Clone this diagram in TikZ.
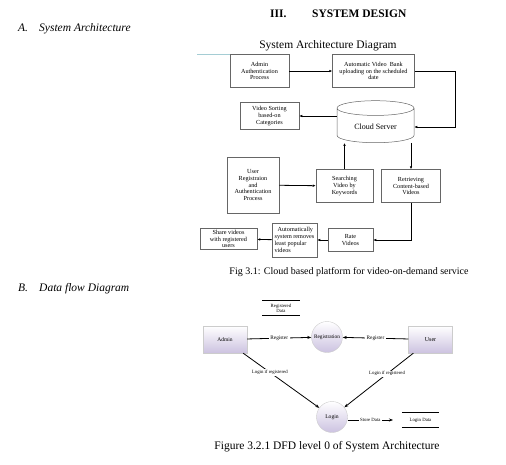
\documentclass[tikz,border=0pt]{standalone}
\usepackage{fontspec}
\setmainfont{Liberation Serif}
\usepackage{tikz}
\usetikzlibrary{shapes.geometric,arrows.meta}
\definecolor{lav}{RGB}{204,194,224}
\definecolor{teal}{RGB}{165,205,212}
\tikzset{box/.style={draw=gray!80!black, line width=0.5pt, rectangle, align=center, inner sep=1pt, font=\fontsize{6.2}{6.8}\selectfont},
  arr/.style={line width=0.8pt, -{Latex[length=3pt,width=2.6pt]}},
  dfdbox/.style={draw=gray!40, rectangle, top color=white, bottom color=lav, minimum width=44pt, minimum height=27pt, font=\fontsize{5.5}{6}\selectfont},
  dfdcirc/.style={draw=gray!40, circle, top color=white, bottom color=lav, minimum size=31pt, inner sep=0pt, font=\fontsize{5.3}{6}\selectfont},
  store/.style={inner sep=0pt, minimum width=37pt, minimum height=15pt, align=center, font=\fontsize{4.8}{5.2}\selectfont},
  dfdarr/.style={line width=0.8pt, -{Stealth[length=4pt,width=3pt]}},
  lbl/.style={fill=white, inner sep=1.5pt, font=\fontsize{5.3}{6}\selectfont},
  small/.style={fill=white, inner sep=1pt, font=\fontsize{4.8}{5.2}\selectfont}}
\begin{document}
\begin{tikzpicture}[x=1pt, y=-1pt]
  \useasboundingbox (0,0) rectangle (506,464);
  % headings
  \node [anchor=base west, inner sep=0pt, font=\fontsize{11.5}{13}\selectfont\bfseries] (sec) at (270,17) {III.};
  \node [anchor=base west, inner sep=0pt, font=\fontsize{11.5}{13}\selectfont\bfseries] (secname) at (312,17) {SYSTEM DESIGN};
  \node [anchor=base west, inner sep=0pt, font=\fontsize{11.5}{13}\selectfont\itshape] (suba) at (18,31) {A.};
  \node [anchor=base west, inner sep=0pt, font=\fontsize{11.5}{13}\selectfont\itshape] (subaname) at (39,31) {System Architecture};
  \node [anchor=base, inner sep=0pt, font=\fontsize{11.5}{13}\selectfont] (title) at (328,48) {System Architecture Diagram};
  \draw [teal, line width=0.8pt] (197,54) -- (233,54);
  % system architecture
  \node [box, minimum width=59pt, minimum height=33pt] (adminauth) at (259.5,71) {Admin\\Authentication\\Process};
  \node [box, minimum width=82pt, minimum height=33pt] (autobank) at (373.5,71) {Automatic Video~ Bank\\uploading on the scheduled\\date};
  \node [box, minimum width=59pt, minimum height=27pt] (sorting) at (269.5,116) {Video Sorting\\based-on\\Categories};
  \node [draw=gray!80!black, line width=0.5pt, cylinder, shape border rotate=90, aspect=0.3, minimum width=77pt, minimum height=42pt, font=\fontsize{8}{9}\selectfont] (cloud) at (375.5,127) {Cloud Server};
  \node [box, minimum width=52pt, minimum height=56pt] (userreg) at (253,185) {User\\Registraion\\and\\Authentication\\Process};
  \node [box, minimum width=57pt, minimum height=33pt] (search) at (344.5,186) {Searching\\Video by\\Keywords};
  \node [box, minimum width=59pt, minimum height=33pt] (retrieve) at (411,186) {Retrieving\\Content-based\\Videos};
  \node [box, minimum width=45pt, minimum height=23pt] (rate) at (350.5,240) {Rate\\Videos};
  \node [box, minimum width=45pt, minimum height=34pt, align=left] (removes) at (294.5,240) {\hspace*{3pt}Automatically\\system removes\\least popular\\videos};
  \node [box, minimum width=57pt, minimum height=21pt] (share) at (228.5,239) {Share videos\\with registered\\users};
  \draw [arr] (adminauth) -- (autobank);
  \draw [arr] (autobank.east) -- ++(41,0) |- (cloud.east);
  \draw [arr] (cloud.west |- sorting.east) -- (sorting.east);
  \draw [arr] (userreg) -- (search);
  \draw [arr] (search.north) -- (search.north |- cloud.south);
  \draw [arr] (retrieve.north |- cloud.south) -- (retrieve.north);
  \draw [arr] (retrieve.south) |- (rate.east);
  \draw [arr] (rate) -- (removes);
  \draw [arr] (removes) -- (share);
  \node [anchor=base, inner sep=0pt, font=\fontsize{10}{12}\selectfont] (figone) at (349,274) {Fig 3.1: Cloud based platform for video-on-demand service};
  % data flow diagram
  \node [anchor=base west, inner sep=0pt, font=\fontsize{11.5}{13}\selectfont\itshape] (subb) at (18,291) {B.};
  \node [anchor=base west, inner sep=0pt, font=\fontsize{11.5}{13}\selectfont\itshape] (subbname) at (39,291) {Data flow Diagram};
  \node [store] (regdata) at (281,308) {Registered\\Data};
  \draw [line width=0.6pt] (regdata.north west) -- (regdata.north east);
  \draw [line width=0.6pt] (regdata.south west) -- (regdata.south east);
  \node [dfdbox] (admin) at (225,339.5) {Admin};
  \node [dfdcirc] (registration) at (327,337) {Registration};
  \node [dfdbox, font=\fontsize{6}{7}\selectfont] (user) at (430.5,339.5) {User};
  \node [dfdcirc, font=\fontsize{5.6}{6}\selectfont] (login) at (332,417) {Login};
  \node [store] (logindata) at (420.5,420) {Login Data};
  \draw [line width=0.6pt] (logindata.north west) -- (logindata.north east);
  \draw [line width=0.6pt] (logindata.south west) -- (logindata.south east);
  \coordinate (storeend) at (393,420);
  \draw [dfdarr] (admin) -- node [lbl] {Register} (registration);
  \draw [dfdarr] (user) -- node [lbl] {Register} (registration);
  \draw [dfdarr] ([xshift=-4pt]admin.south east) -- node [small, pos=0.35] {Login if registered} (login);
  \draw [dfdarr] ([xshift=5pt]user.south west) -- node [small, pos=0.38] {Login if registered} (login);
  \draw [dfdarr] (login.east |- storeend) -- node [small] {Store Data} (storeend);
  \node [anchor=base, inner sep=0pt, font=\fontsize{11.5}{13}\selectfont] (figtwo) at (327,449) {Figure 3.2.1 DFD level 0 of System Architecture};
\end{tikzpicture}
\end{document}
